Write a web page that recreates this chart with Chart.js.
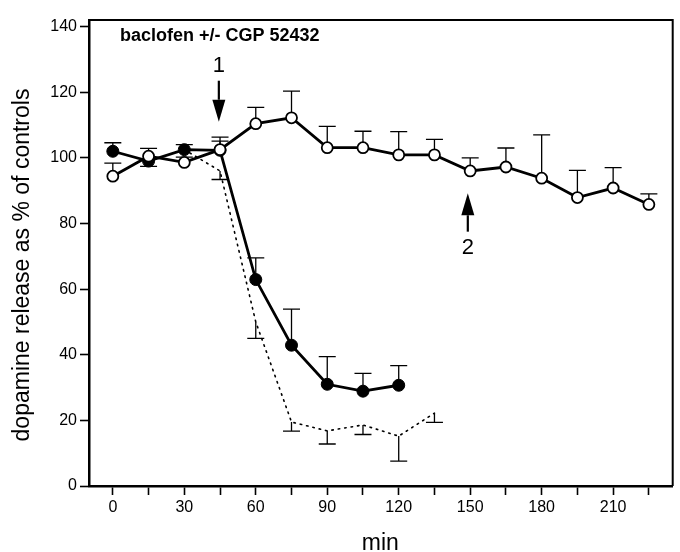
<!DOCTYPE html>
<html>
<head>
<meta charset="utf-8">
<script src="https://cdn.jsdelivr.net/npm/chart.js@4.4.1/dist/chart.umd.min.js"></script>
<style>
  html, body { margin: 0; padding: 0; background: #fff; }
  #wrap { width: 680px; height: 552px; }
</style>
</head>
<body>
<div id="wrap"><canvas id="myChart"></canvas></div>
<script>
// time points (min)
const minutesOpen = [0, 15, 30, 45, 60, 75, 90, 105, 120, 135, 150, 165, 180, 195, 210, 225];
const minutesFilled = [0, 15, 30, 45, 60, 75, 90, 105, 120];
const minutesDotted = [30, 45, 60, 75, 90, 105, 120, 135];

// dopamine release, % of controls
const openValues = [94.4, 100.5, 98.6, 102.5, 110.4, 112.2, 103.1, 103.1, 100.9, 100.9, 96, 97.2, 93.8, 87.9, 90.8, 85.8];
const openErrors = [4, 2.4, 1.6, 3.8, 5, 8.1, 6.5, 5, 7.1, 4.7, 4, 5.8, 13.2, 8.3, 6.2, 3.2];

const filledValues = [102, 99, 102.5, 102.3, 62.9, 42.9, 31, 28.9, 30.7];
const filledErrors = [2.6, -1.6, 1.5, 2.8, 6.6, 11, 8.4, 5.4, 6];

const dottedValues = [102.5, 96, 50, 19.5, 16.8, 18.6, 15.2, 22.2];
const dottedErrors = [0, -2.6, -5, -2.8, -4, -2.9, -7.6, -2.8];

const xTicks = [0, 15, 30, 45, 60, 75, 90, 105, 120, 135, 150, 165, 180, 195, 210, 225];
const yTicks = [0, 20, 40, 60, 80, 100, 120, 140];

const FONT = "'Liberation Sans', Arial, Helvetica, sans-serif";

const toPoints = (xs, ys) => xs.map((x, i) => ({ x: x, y: ys[i] }));

// vertical error bars with a cap; sign of the error gives the direction
const errorBars = {
    id: 'errorBars',
    beforeDatasetsDraw(chart) {
        const ctx = chart.ctx;
        const yScale = chart.scales.y;
        ctx.save();
        ctx.strokeStyle = '#000';
        ctx.lineWidth = 1.3;
        chart.data.datasets.forEach((ds, i) => {
            if (!ds.errors) return;
            const meta = chart.getDatasetMeta(i);
            meta.data.forEach((pt, j) => {
                const e = ds.errors[j];
                if (!e) return;
                const yEnd = yScale.getPixelForValue(ds.data[j].y + e);
                ctx.beginPath();
                ctx.moveTo(pt.x, pt.y);
                ctx.lineTo(pt.x, yEnd);
                ctx.moveTo(pt.x - 8.5, yEnd);
                ctx.lineTo(pt.x + 8.5, yEnd);
                ctx.stroke();
            });
        });
        ctx.restore();
    }
};

function arrow(ctx, x, yFrom, yTo) {
    const dir = yTo > yFrom ? 1 : -1;
    const headLen = 22, headHalf = 6.5;
    ctx.beginPath();
    ctx.moveTo(x, yFrom);
    ctx.lineTo(x, yTo - dir * headLen);
    ctx.stroke();
    ctx.beginPath();
    ctx.moveTo(x, yTo);
    ctx.lineTo(x - headHalf, yTo - dir * headLen);
    ctx.lineTo(x + headHalf, yTo - dir * headLen);
    ctx.closePath();
    ctx.fill();
}

// frame, axis titles, heading and the two arrows
const decorations = {
    id: 'decorations',
    afterDraw(chart) {
        const ctx = chart.ctx;
        const { top, right, left, bottom } = chart.chartArea;
        const xs = chart.scales.x, ys = chart.scales.y;
        ctx.save();
        ctx.strokeStyle = '#000';
        ctx.fillStyle = '#000';
        ctx.lineWidth = 2;
        ctx.beginPath();
        ctx.moveTo(left, top);
        ctx.lineTo(right, top);
        ctx.lineTo(right, bottom);
        ctx.stroke();

        // axis titles
        ctx.font = '23px ' + FONT;
        ctx.textAlign = 'center';
        ctx.textBaseline = 'alphabetic';
        ctx.fillText('min', (left + right) / 2 - 0.5, 550);
        ctx.save();
        ctx.translate(29, 265);
        ctx.rotate(-Math.PI / 2);
        ctx.fillText('dopamine release as % of controls', 0, 0);
        ctx.restore();

        ctx.font = 'bold 18px ' + FONT;
        ctx.textAlign = 'left';
        ctx.textBaseline = 'middle';
        ctx.fillText('baclofen +/- CGP 52432', xs.getPixelForValue(3), ys.getPixelForValue(137));

        ctx.lineWidth = 2.2;
        const x1 = xs.getPixelForValue(44.5);
        arrow(ctx, x1, ys.getPixelForValue(123.5), ys.getPixelForValue(111));
        const x2 = xs.getPixelForValue(149);
        arrow(ctx, x2, ys.getPixelForValue(77.5), ys.getPixelForValue(89.2));

        ctx.font = '22px ' + FONT;
        ctx.textAlign = 'center';
        ctx.fillText('1', x1, ys.getPixelForValue(128));
        ctx.fillText('2', x2, ys.getPixelForValue(72.5));
        ctx.restore();
    }
};

const axisStyle = {
    grid: { drawOnChartArea: false, drawTicks: true, tickLength: 9, tickColor: '#000', tickWidth: 1.6 },
    border: { display: true, color: '#000', width: 2.5 },
    ticks: { color: '#000', font: { family: FONT, size: 16 }, padding: 3, autoSkip: false, maxRotation: 0 }
};

new Chart(document.getElementById('myChart').getContext('2d'), {
    type: 'line',
    data: {
        datasets: [
            {
                label: 'CGP 52432',
                data: toPoints(minutesDotted, dottedValues),
                errors: dottedErrors,
                borderColor: '#000',
                borderWidth: 1.6,
                borderDash: [1.5, 5],
                borderCapStyle: 'round',
                pointRadius: 0,
                fill: false,
                tension: 0
            },
            {
                label: 'baclofen + CGP 52432',
                data: toPoints(minutesOpen, openValues),
                errors: openErrors,
                borderColor: '#000',
                borderWidth: 2.8,
                pointRadius: 5.5,
                pointBackgroundColor: '#fff',
                pointBorderColor: '#000',
                pointBorderWidth: 1.8,
                fill: false,
                tension: 0
            },
            {
                label: 'baclofen',
                data: toPoints(minutesFilled, filledValues),
                errors: filledErrors,
                borderColor: '#000',
                borderWidth: 2.8,
                pointRadius: 6,
                pointBackgroundColor: '#000',
                pointBorderColor: '#000',
                pointBorderWidth: 1,
                fill: false,
                tension: 0
            }
        ]
    },
    options: {
        responsive: true,
        maintainAspectRatio: false,
        animation: false,
        layout: { padding: { top: 20, right: 4, left: 0, bottom: 0 } },
        plugins: { legend: { display: false }, tooltip: { enabled: false } },
        scales: {
            x: {
                type: 'linear',
                min: -10,
                max: 235,
                afterBuildTicks: s => { s.ticks = xTicks.map(v => ({ value: v })); },
                afterFit: s => { s.height = 66; },
                grid: axisStyle.grid,
                border: axisStyle.border,
                ticks: Object.assign({}, axisStyle.ticks, { callback: v => (v % 30 === 0 ? v : '') })
            },
            y: {
                type: 'linear',
                min: 0,
                max: 142,
                afterBuildTicks: s => { s.ticks = yTicks.map(v => ({ value: v })); },
                afterFit: s => { s.width = 89; },
                grid: axisStyle.grid,
                border: axisStyle.border,
                ticks: axisStyle.ticks
            }
        }
    },
    plugins: [errorBars, decorations]
});
</script>
</body>
</html>
